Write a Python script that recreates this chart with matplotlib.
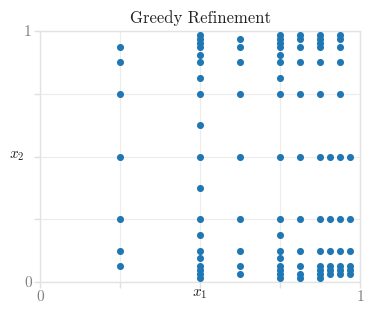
import matplotlib
matplotlib.use("Agg")
import matplotlib.pyplot as plt
import numpy as np

plt.rcParams['font.family'] = ['cmr10', 'DejaVu Serif']
plt.rcParams['mathtext.fontset'] = 'cm'
plt.rcParams['axes.formatter.use_mathtext'] = True

# x1 column positions and the x2 values of points in each column
col_x = [0.25, 0.5, 0.625, 0.75, 0.8125, 0.875, 0.90625, 0.9375, 0.96875]
col_y = [
    [0.0625, 0.125, 0.25, 0.5, 0.75, 0.875, 0.9375],
    [0.015625, 0.03125, 0.046875, 0.0625, 0.09375, 0.125, 0.1875, 0.25, 0.375,
     0.5, 0.625, 0.75, 0.8125, 0.875, 0.90625, 0.9375, 0.953125, 0.96875, 0.984375],
    [0.03125, 0.0625, 0.125, 0.25, 0.5, 0.75, 0.875, 0.9375, 0.96875],
    [0.015625, 0.03125, 0.046875, 0.0625, 0.09375, 0.125, 0.1875, 0.25,
     0.5, 0.75, 0.8125, 0.875, 0.90625, 0.9375, 0.953125, 0.96875, 0.984375],
    [0.015625, 0.03125, 0.0625, 0.125, 0.25, 0.5, 0.75, 0.875, 0.9375, 0.96875, 0.984375],
    [0.015625, 0.03125, 0.046875, 0.0625, 0.125, 0.25, 0.5, 0.75, 0.875,
     0.9375, 0.953125, 0.96875, 0.984375],
    [0.03125, 0.046875, 0.0625, 0.125, 0.25, 0.5],
    [0.03125, 0.046875, 0.0625, 0.125, 0.25, 0.5, 0.75, 0.875, 0.9375, 0.96875, 0.984375],
    [0.03125, 0.046875, 0.0625, 0.125, 0.25, 0.5],
]
tick_vals = [0, 0.25, 0.5, 0.75, 1]
xtick_labels = ['0', '', '', '', '1']
ytick_labels = ['0', '', '', '', '1']

xs = []
ys = []
for cx, cys in zip(col_x, col_y):
    for cy in cys:
        xs.append(cx)
        ys.append(cy)

fig = plt.figure(figsize=(3.74, 3.15), dpi=100)
ax = fig.add_axes([40/374, 33/315, 320/374, 251/315])

ax.scatter(xs, ys, s=26, color='#1f77b4', zorder=3, linewidths=0, clip_on=False)

ax.set_xlim(0, 1)
ax.set_ylim(0, 1)
ax.set_xticks(tick_vals)
ax.set_yticks(tick_vals)
ax.set_xticklabels(xtick_labels)
ax.set_yticklabels(ytick_labels)
ax.grid(True, color='#ececec', linewidth=0.8, zorder=0)
for sp in ax.spines.values():
    sp.set_color('#e3e3e3')
    sp.set_linewidth(1.0)
ax.tick_params(axis='both', colors='#e0e0e0', labelcolor='#808080', length=4,
               width=1.0, labelsize=11, pad=2)

ax.text(0.5, -0.02, '$x_1$', transform=ax.transAxes, ha='center', va='top',
        fontsize=11, color='#222222')
ax.text(-0.05, 0.5, '$x_2$', transform=ax.transAxes, ha='right', va='center',
        fontsize=11, color='#222222')
ax.set_title('Greedy Refinement', fontsize=12, color='#222222', pad=6)

fig.savefig('out.png', dpi=100)
